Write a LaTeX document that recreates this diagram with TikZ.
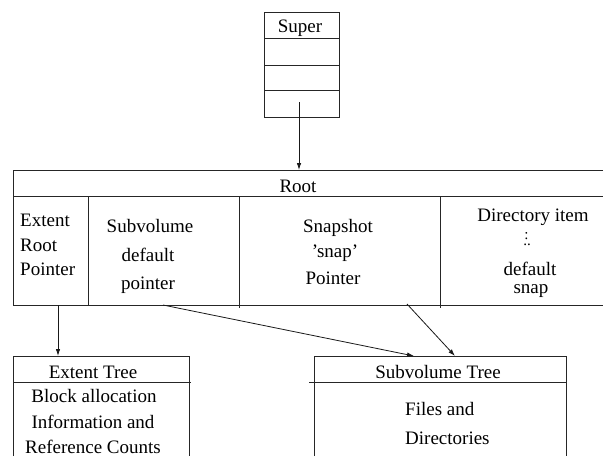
\documentclass[tikz,border=0pt]{standalone}
\usepackage{fontspec}
\setmainfont{Liberation Serif}
\usetikzlibrary{arrows.meta}
\begin{document}
\begin{tikzpicture}[x=1pt,y=-1pt,
  box/.style={line width=0.8pt, draw=black!85},
  lbl/.style={anchor=base, inner sep=0pt, font=\fontsize{19}{22}\selectfont},
  lbll/.style={lbl, anchor=base west},
  ptr/.style={line width=0.8pt, draw=black!90, -{Latex[length=7pt,width=4.5pt]}}]
\useasboundingbox (0,0) rectangle (604,456);

% superblock
\draw[box] (264,12) rectangle (339,117);
\draw[box] (264,38) -- (339,38) (264,65) -- (339,65) (264,90) -- (339,90);
\node[lbl] (super) at (300,32) {Super};
\coordinate (superptr) at (299,102);

% root tree node (open on the right)
\draw[box] (603,170) -- (13,170) -- (13,305) -- (603,305);
\draw[box] (13,196) -- (603,196);
\draw[box] (88,196) -- (88,305);
\draw[box] (239,196) -- (239,308);
\draw[box] (440,196) -- (440,308);
\node[lbl] (root) at (298,192) {Root};
\coordinate (roottop) at (299,170);

\node[lbll] (ext1) at (20,226) {Extent};
\node[lbll] (ext2) at (20,251) {Root};
\node[lbll] (ext3) at (20,275) {Pointer};

\node[lbl] (sub1) at (150,232) {Subvolume};
\node[lbl] (sub2) at (148,261) {default};
\node[lbl] (sub3) at (148,289) {pointer};

\node[lbl] (snap1) at (338,232) {Snapshot};
\node[lbl] (snap2) at (335,257) {'snap'};
\node[lbl] (snap3) at (333,284) {Pointer};

\node[lbl] (dir1) at (533,221) {Directory item};
% colon stacked over two dots
\node[lbl, font=\fontsize{15}{15}\selectfont] (dir2) at (527,245)
  {\makebox[0pt][l]{\hspace{1.2pt}\raisebox{6pt}{:}}..};
\node[lbl] (dir4) at (530,275) {default};
\node[lbl] (dir5) at (531,293) {snap};

\coordinate (extptr) at (58,305);
\coordinate (subptr) at (163,305);
\coordinate (snapptr) at (407,304);

% extent tree (runs off the bottom)
\draw[box] (13,456) -- (13,356) -- (189,356) -- (189,456);
\draw[box] (13,382) -- (191,382);
\node[lbl] (extt) at (93,378) {Extent Tree};
\node[lbl] (ext4) at (94,402) {Block allocation};
\node[lbl] (ext5) at (93,428) {Information and};
\node[lbl] (ext6) at (93,453) {Reference Counts};
\coordinate (exttop) at (58,356);

% subvolume tree (runs off the bottom)
\draw[box] (314,456) -- (314,356) -- (566,356) -- (566,456);
\draw[box] (309,382) -- (566,382);
\node[lbl] (subt) at (438,378) {Subvolume Tree};
\node[lbll] (files1) at (405,415) {Files and};
\node[lbll] (files2) at (405,444) {Directories};
\coordinate (subtopa) at (414,356);
\coordinate (subtopb) at (455,356);

% pointers
\draw[ptr] (superptr) -- (roottop);
\draw[ptr] (extptr) -- (exttop);
\draw[ptr] (subptr) -- (subtopa);
\draw[ptr] (snapptr) -- (subtopb);
\end{tikzpicture}
\end{document}
